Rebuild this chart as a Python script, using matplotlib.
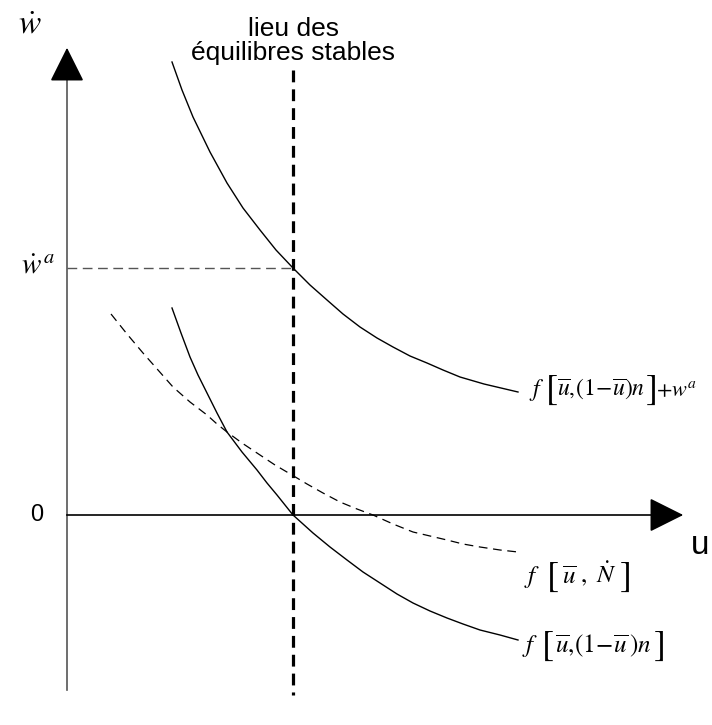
import numpy as np
import matplotlib
matplotlib.use("Agg")
from matplotlib import pyplot as plt

plt.rcParams['mathtext.fontset'] = 'stix'

# curves, in picture units (x to the right, y downwards)
upper_x = [172, 182, 193, 210, 227, 243, 260, 276, 293, 310, 327, 343, 360, 377, 393, 410, 427, 443, 460, 484, 518]
upper_y = [62, 90, 117, 152, 183, 208, 230, 250, 268, 285, 300, 314, 327, 338, 347, 356, 363, 370, 377, 384, 392]

lower_x = [172, 181, 190, 198, 207, 217, 227, 242, 257, 267, 277, 285, 293, 303, 313, 330, 347, 363, 380, 397, 413, 430, 447, 463, 480, 500, 518]
lower_y = [308, 333, 357, 375, 393, 413, 432, 452, 470, 483, 495, 505, 515, 524, 533, 547, 560, 572, 583, 594, 603, 611, 618, 624, 630, 635, 640]

dash_x = [111, 127, 143, 158, 173, 190, 207, 217, 227, 242, 257, 275, 292, 307, 323, 340, 357, 373, 393, 413, 430, 447, 463, 480, 500, 518]
dash_y = [314, 334, 353, 370, 387, 402, 415, 424, 432, 443, 453, 465, 475, 484, 493, 502, 509, 515, 524, 532, 536, 540, 544, 547, 550, 552]

origin = (67, 515)
u_eq = 293
w_a = 268

fig = plt.figure(figsize=(7.12, 7.25), dpi=100)
ax = fig.add_axes([0, 0, 1, 1])
ax.set_xlim(0, 712)
ax.set_ylim(725, 0)
ax.axis("off")

# axes with arrow heads
ax.plot([origin[0], origin[0]], [690, 70], color="#555555", lw=1.2)
ax.annotate("", xy=(origin[0], 45), xytext=(origin[0], 80),
            arrowprops=dict(arrowstyle="-|>,head_length=1.08,head_width=0.54",
                            mutation_scale=20, color="black", lw=1.2))
ax.plot([origin[0], 660], [origin[1], origin[1]], color="black", lw=1.2)
ax.annotate("", xy=(686, origin[1]), xytext=(650, origin[1]),
            arrowprops=dict(arrowstyle="-|>,head_length=1.08,head_width=0.54",
                            mutation_scale=20, color="black", lw=1.2))

# equilibrium line and level
ax.plot([u_eq, u_eq], [70, 695], color="black", lw=2.3, dashes=(3.7, 2.2))
ax.plot([origin[0], u_eq], [w_a, w_a], color="#555555", lw=1, dashes=(7, 4))

ax.plot(upper_x, upper_y, color="black", lw=1)
ax.plot(lower_x, lower_y, color="black", lw=1)
ax.plot(dash_x, dash_y, color="black", lw=0.9, dashes=(7, 4.5))

# labels
ax.text(30, 24, r"$\dot{w}$", fontsize=24, ha="center", va="center")
ax.text(38, 265, r"$\dot{w}^{\,a}$", fontsize=21, ha="center", va="center")
ax.text(37, 515, "0", fontsize=17, ha="center", va="center",
        family="Liberation Sans")
ax.text(691, 545, "u", fontsize=24, ha="left", va="center",
        family="Liberation Sans")
ax.text(u_eq, 41, "lieu des\néquilibres stables", fontsize=19,
        ha="center", va="center", linespacing=1.0, family="Liberation Sans")


def bracket_label(x_f, x_open, x_in, x_close, y, inner, tail="", fs=18, bs=26):
    ax.text(x_f, y, r"$f$", fontsize=fs, ha="left", va="baseline")
    ax.text(x_open, y + 3, r"$[$", fontsize=bs, ha="left", va="baseline")
    ax.text(x_in, y, inner, fontsize=fs, ha="left", va="baseline")
    ax.text(x_close, y + 3, r"$]$", fontsize=bs, ha="right", va="baseline")
    if tail:
        ax.text(x_close, y, tail, fontsize=16, ha="left", va="baseline")


bracket_label(529, 545, 557, 656, 396,
              r"$\overline{u},\!\left(1\!-\!\overline{u}\right)n$",
              tail=r"$+w^{a}$", fs=17)
bracket_label(524, 546, 562, 630, 583, r"$\overline{u}\ ,\ \dot{N}$", fs=18)
bracket_label(522, 541, 555, 664, 652,
              r"$\overline{u},\!\left(1\!-\!\overline{u}\,\right)n$", fs=18)

fig.savefig("out.png", dpi=100)
